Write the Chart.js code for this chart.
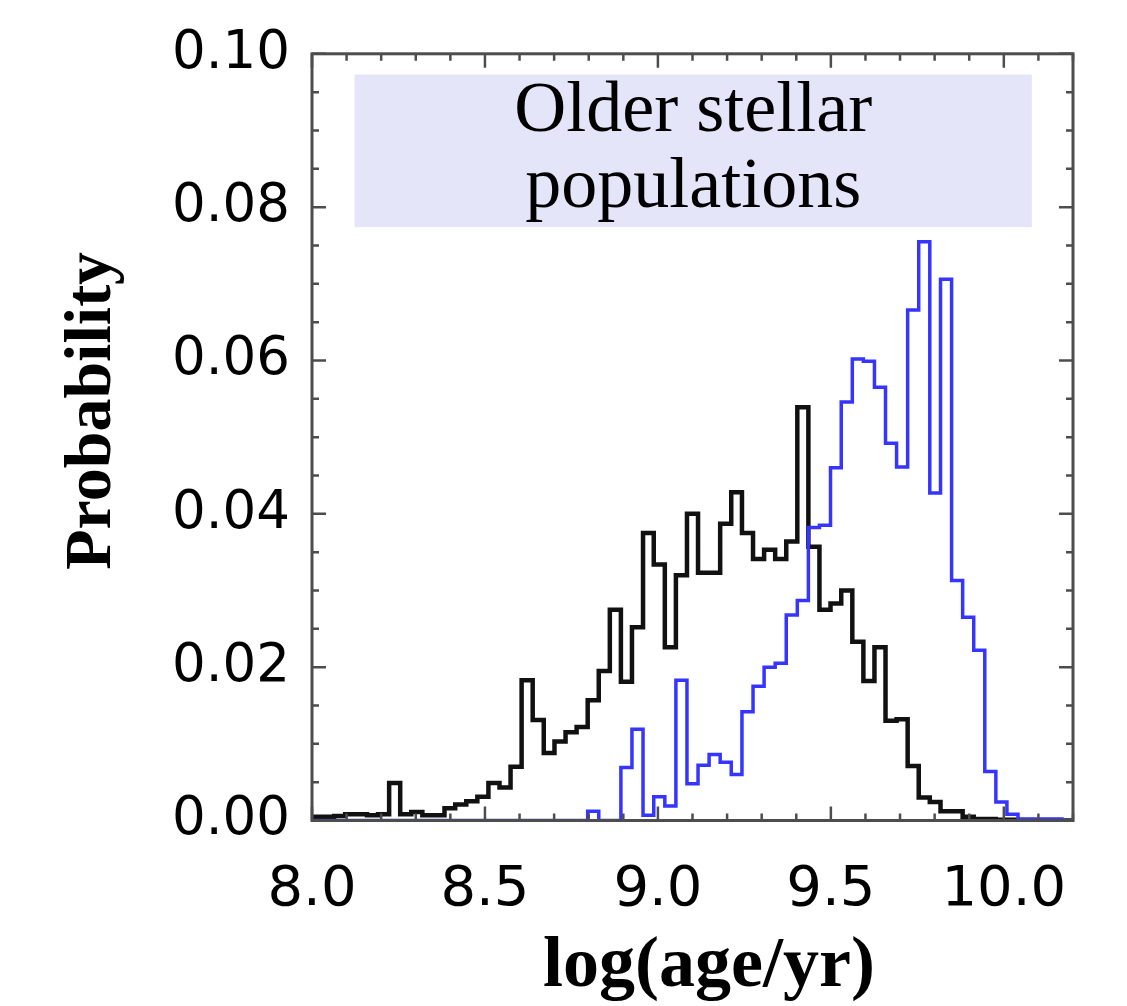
<!DOCTYPE html>
<html>
<head>
<meta charset="utf-8">
<script src="https://cdn.jsdelivr.net/npm/chart.js@4.4.1/dist/chart.umd.min.js"></script>
<style>
  html, body { margin: 0; padding: 0; background: #fff; }
  #wrap { width: 1127px; height: 1006px; }
</style>
</head>
<body>
<div id="wrap"><canvas id="chart" width="1127" height="1006"></canvas></div>
<script>
// Левые края бинов гистограммы (последнее значение - правый край последнего бина)
const binEdges = [
  8.000, 8.032, 8.064, 8.096, 8.128, 8.159, 8.191, 8.223, 8.255, 8.287,
  8.319, 8.351, 8.383, 8.414, 8.446, 8.478, 8.510, 8.542, 8.574, 8.606,
  8.638, 8.670, 8.701, 8.733, 8.765, 8.797, 8.829, 8.861, 8.893, 8.925,
  8.957, 8.988, 9.020, 9.052, 9.084, 9.116, 9.148, 9.180, 9.212, 9.243,
  9.275, 9.307, 9.339, 9.371, 9.403, 9.435, 9.467, 9.499, 9.530, 9.562,
  9.594, 9.626, 9.658, 9.690, 9.722, 9.754, 9.786, 9.817, 9.849, 9.881,
  9.913, 9.945, 9.977, 10.009, 10.041, 10.072, 10.104, 10.136, 10.168, 10.200
];

// Чёрная гистограмма
const blackProb = [
  0.0005, 0.0005, 0.0006, 0.0008, 0.0008, 0.0007, 0.0008, 0.0049, 0.0008, 0.0011,
  0.0007, 0.0007, 0.0016, 0.0021, 0.0025, 0.0031, 0.0049, 0.0043, 0.0070, 0.0183,
  0.0131, 0.0088, 0.0103, 0.0115, 0.0122, 0.0157, 0.0195, 0.0275, 0.0181, 0.0252,
  0.0375, 0.0334, 0.0226, 0.0320, 0.0400, 0.0323, 0.0323, 0.0387, 0.0428, 0.0375,
  0.0341, 0.0353, 0.0341, 0.0364, 0.0539, 0.0357, 0.0275, 0.0283, 0.0300, 0.0233,
  0.0182, 0.0226, 0.0130, 0.0132, 0.0071, 0.0030, 0.0024, 0.0012, 0.0012, 0.0005,
  0.0002, 0.0002, 0.0001, 0.0001, 0, 0, 0, 0, 0
];

// Синяя гистограмма (старые звёздные населения)
const blueProb = [
  0, 0, 0, 0, 0, 0, 0, 0, 0, 0,
  0, 0, 0, 0, 0, 0, 0, 0, 0, 0,
  0, 0, 0, 0, 0, 0.0012, 0, 0, 0.0069, 0.0119,
  0.0007, 0.0031, 0.0019, 0.0183, 0.0048, 0.0072, 0.0086, 0.0076, 0.0060, 0.0142,
  0.0175, 0.0200, 0.0205, 0.0268, 0.0287, 0.0382, 0.0385, 0.0460, 0.0546, 0.0602,
  0.0599, 0.0565, 0.0492, 0.0461, 0.0666, 0.0755, 0.0427, 0.0706, 0.0313, 0.0265,
  0.0222, 0.0064, 0.0024, 0.0008, 0.0002, 0.0002, 0.0002, 0.0002, 0
];

const xTitle = 'log(age/yr)';
const yTitle = 'Probability';
const noteLines = ['Older stellar', 'populations'];

// Ступенчатая линия: точка на левом крае каждого бина + правый край последнего
function toSteps(values) {
  const pts = values.map((v, i) => ({ x: binEdges[i], y: v }));
  pts.push({ x: binEdges[values.length], y: values[values.length - 1] });
  return pts;
}

// Рамка с внутренними засечками, подписи осей и плашка с текстом
const framePlugin = {
  id: 'frame',
  beforeDatasetsDraw(chart) {
    const { ctx, scales: { x, y } } = chart;
    const x0 = x.getPixelForValue(8.123), x1 = x.getPixelForValue(10.081);
    const y0 = y.getPixelForValue(0.0973), y1 = y.getPixelForValue(0.0774);
    ctx.save();
    ctx.fillStyle = '#e5e5fa';
    ctx.fillRect(x0, y0, x1 - x0, y1 - y0);
    ctx.fillStyle = '#000';
    ctx.font = '72px "Liberation Serif", "Times New Roman", serif';
    ctx.textAlign = 'center';
    ctx.textBaseline = 'alphabetic';
    const cx = (x0 + x1) / 2;
    ctx.fillText(noteLines[0], cx, y0 + 56);
    ctx.fillText(noteLines[1], cx, y0 + 132);
    ctx.restore();
  },
  afterDraw(chart) {
    const { ctx, chartArea: a, scales: { x, y } } = chart;
    ctx.save();
    ctx.strokeStyle = '#4d4d4d';
    ctx.lineWidth = 2.5;

    // засечки по X
    for (let v = 80; v <= 102; v++) {
      const px = x.getPixelForValue(v / 10);
      const len = v % 5 === 0 ? 14 : 7;
      ctx.beginPath();
      ctx.moveTo(px, a.bottom); ctx.lineTo(px, a.bottom - len);
      ctx.moveTo(px, a.top); ctx.lineTo(px, a.top + len);
      ctx.stroke();
    }
    // засечки по Y
    for (let v = 0; v <= 20; v++) {
      const py = y.getPixelForValue(v * 0.005);
      const len = v % 4 === 0 ? 14 : 7;
      ctx.beginPath();
      ctx.moveTo(a.left, py); ctx.lineTo(a.left + len, py);
      ctx.moveTo(a.right, py); ctx.lineTo(a.right - len, py);
      ctx.stroke();
    }
    ctx.lineWidth = 3;
    ctx.strokeRect(a.left, a.top, a.right - a.left, a.bottom - a.top);

    // подписи осей
    ctx.fillStyle = '#000';
    ctx.textAlign = 'center';
    ctx.textBaseline = 'alphabetic';
    ctx.font = 'bold 72px "Liberation Serif", "Times New Roman", serif';
    ctx.fillText(xTitle, a.left + 397, 986);

    ctx.translate(110, a.top + 357);
    ctx.rotate(-Math.PI / 2);
    ctx.font = 'bold 66px "Liberation Serif", "Times New Roman", serif';
    ctx.fillText(yTitle, 0, 0);
    ctx.restore();
  },
};

const ctx = document.getElementById('chart').getContext('2d');
new Chart(ctx, {
  type: 'line',
  data: {
    datasets: [
      {
        label: 'blue',
        data: toSteps(blueProb),
        borderColor: '#3535ff',
        borderWidth: 3.5,
        stepped: 'before',
        pointRadius: 0,
        fill: false,
      },
      {
        label: 'black',
        data: toSteps(blackProb),
        borderColor: '#111111',
        borderWidth: 4.5,
        stepped: 'before',
        pointRadius: 0,
        fill: false,
      },
    ],
  },
  options: {
    responsive: false,
    animation: false,
    devicePixelRatio: 1,
    layout: { padding: { left: 0, top: 47.5, right: 54, bottom: 0 } },
    plugins: {
      legend: { display: false },
      tooltip: { enabled: false },
    },
    scales: {
      x: {
        type: 'linear',
        min: 8.0,
        max: 10.2,
        grid: { display: false, drawTicks: false },
        border: { display: false },
        ticks: {
          stepSize: 0.5,
          includeBounds: false,
          autoSkip: false,
          maxRotation: 0,
          padding: 36,
          color: '#000',
          font: { family: '"DejaVu Sans", sans-serif', size: 56 },
          callback: (v) => (Math.abs(v * 2 - Math.round(v * 2)) < 1e-6 ? v.toFixed(1) : ''),
        },
        afterFit(scale) { scale.height = 185.5; },
      },
      y: {
        min: 0,
        max: 0.1,
        grid: { display: false, drawTicks: false },
        border: { display: false },
        ticks: {
          stepSize: 0.02,
          padding: 22,
          color: '#000',
          font: { family: '"DejaVu Sans", sans-serif', size: 53 },
          callback: (v) => v.toFixed(2),
        },
        afterFit(scale) { scale.width = 312; },
      },
    },
  },
  plugins: [framePlugin],
});
</script>
</body>
</html>
